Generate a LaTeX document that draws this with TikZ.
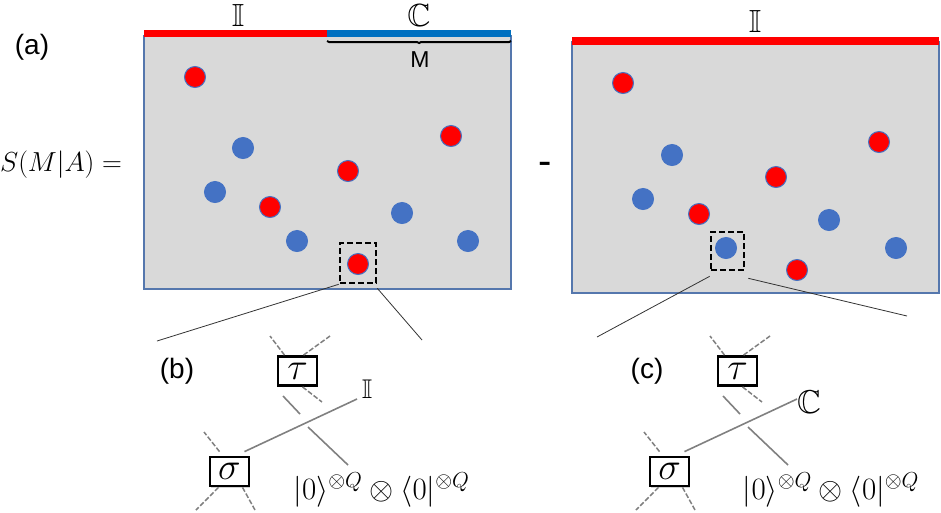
\documentclass[tikz,border=0pt]{standalone}
\usepackage{fix-cm}
\usepackage{amsmath}
\usepackage{amssymb}
\usepackage[no-math]{fontspec}
\setmainfont{Liberation Sans}
\usetikzlibrary{shadows,decorations.pathreplacing}
\definecolor{panelgray}{HTML}{D9D9D9}
\definecolor{panelline}{HTML}{5577AD}
\definecolor{dotblue}{HTML}{4472C4}
\definecolor{barblue}{HTML}{0070C0}
\definecolor{legray}{HTML}{808080}
\tikzset{
  panel/.style={fill=panelgray,draw=panelline,line width=1.2pt},
  reddot/.style={circle,fill=red,draw=dotblue,line width=1pt,minimum size=21pt,inner sep=0pt},
  bluedot/.style={circle,fill=dotblue,draw=dotblue,line width=1pt,minimum size=21pt,inner sep=0pt},
  zoombox/.style={draw=black,line width=2.6pt,dash pattern=on 6pt off 3pt,inner sep=0pt},
  tensorbox/.style={draw=black,fill=white,line width=2.8pt,minimum width=39pt,minimum height=29pt,inner sep=0pt,
    drop shadow={shadow xshift=1pt,shadow yshift=-1.5pt,fill=black!35}},
  sidetext/.style={font=\fontsize{28}{32}\selectfont,inner sep=0pt},
  leg/.style={draw=legray,line width=1.5pt,dash pattern=on 5pt off 2pt},
  wire/.style={draw=legray,line width=1.6pt},
  zoomline/.style={draw=black!80,line width=0.8pt}
}
\begin{document}
\begin{tikzpicture}[x=1pt,y=-1pt]
    \useasboundingbox (0,0) rectangle (941,512);
    % panels
    \draw[panel] (144,36) rectangle (511,289);
    \draw[panel] (572,42) rectangle (939,293);
    \fill[red] (144,30) rectangle (327,37);
    \fill[barblue] (327,30) rectangle (511,37);
    \fill[red] (572,37) rectangle (939,45);
    \coordinate (bl) at (327,41);
    \coordinate (br) at (511,41);
    \draw[line width=2pt,decorate,decoration={brace,mirror,amplitude=2pt}] (bl) -- (br);
    % dots
    \foreach \x/\y [count=\i] in {195/77,348/171,451/136,270/207,358/264,623/83,776/177,879/142,699/214,797/270}
      \node[reddot] (r\i) at (\x,\y) {};
    \foreach \x/\y [count=\i] in {243/148,215/192,297/241,402/213,468/241,672/155,643/199,829/220,896/248,726/248}
      \node[bluedot] (u\i) at (\x,\y) {};
    % labels on top
    \node[inner sep=0pt] (iL) at (238,15) {\fontsize{32}{32}\selectfont$\mathbb{I}$};
    \node[inner sep=0pt] (cL) at (419,15) {\fontsize{32}{32}\selectfont$\mathbb{C}$};
    \node[inner sep=0pt] (iR) at (755,21) {\fontsize{32}{32}\selectfont$\mathbb{I}$};
    \node[font=\fontsize{23}{25}\selectfont,inner sep=0pt] (m) at (420,60) {M};
    \node[sidetext] (a) at (32,47) {(a)};
    \node[inner sep=0pt] (s) at (61,165) {\fontsize{27.5}{30}\selectfont$S(M|A)=$};
    \node[font=\fontsize{40}{40}\selectfont] (minus) at (545,168) {-};
    % zoom squares
    \node[zoombox,minimum width=36pt,minimum height=40pt] (zoomb) at (358,263) {};
    \node[zoombox,minimum width=33pt,minimum height=38pt] (zoomc) at (727.5,251) {};
    \coordinate (zb1) at (157,341);
    \coordinate (zb2) at (422,340);
    \coordinate (zc1) at (597,337);
    \coordinate (zc2) at (907,316);
    \draw[zoomline] (zoomb.south west) -- (zb1);
    \draw[zoomline] ([yshift=-4pt]zoomb.south east) -- (zb2);
    \draw[zoomline] ([yshift=-5pt]zoomc.south west) -- (zc1);
    \draw[zoomline] ([xshift=3pt,yshift=-7pt]zoomc.south east) -- (zc2);
    % tensor pairs
    \foreach \side/\dx/\lab/\labx/\laby/\labsize/\formx/\tagx in {b/0/\mathbb{I}/367/389/27/381.5/177,c/440/\mathbb{C}/809/402/33/831/647}{
      \node[tensorbox] (tau\side) at (297.5+\dx,371) {\fontsize{38}{38}\selectfont$\tau$};
      \node[tensorbox] (sig\side) at (229.5+\dx,471.5) {\fontsize{38}{38}\selectfont$\sigma$};
      \node[inner sep=0pt] (lab\side) at (\labx,\laby) {\fontsize{\labsize}{\labsize}\selectfont$\lab$};
      \node[inner sep=0pt] (form\side) at (\formx,490) {\fontsize{31}{34}\selectfont$|0\rangle^{\otimes Q}\otimes\langle 0|^{\otimes Q}$};
      \node[sidetext] (tag\side) at (\tagx,371) {(\side)};
      \coordinate (ta\side) at (270+\dx,336);
      \coordinate (tb\side) at (330+\dx,336);
      \coordinate (tc\side) at (322+\dx,402);
      \coordinate (w1\side) at (283+\dx,396);
      \coordinate (w2\side) at (300+\dx,414);
      \coordinate (w3\side) at (308+\dx,427);
      \coordinate (w4\side) at (348+\dx,465);
      \coordinate (w5\side) at (357+\dx,399);
      \coordinate (sa\side) at (204+\dx,432);
      \coordinate (sb\side) at (196+\dx,510);
      \coordinate (sc\side) at (255+\dx,510);
      \draw[leg] ([xshift=-13pt]tau\side.north) -- (ta\side);
      \draw[leg] ([xshift=6pt]tau\side.north) -- (tb\side);
      \draw[leg] ([xshift=5pt]tau\side.south) -- (tc\side);
      \draw[wire] (w1\side) -- (w2\side);
      \draw[wire] (w3\side) -- (w4\side);
      \draw[wire] ([xshift=15pt,yshift=4pt]sig\side.north) -- (w5\side);
      \draw[leg] ([xshift=-10pt,yshift=4pt]sig\side.north) -- (sa\side);
      \draw[leg] ([xshift=-11pt]sig\side.south) -- (sb\side);
      \draw[leg] ([xshift=13pt]sig\side.south) -- (sc\side);
    }
  \end{tikzpicture}
\end{document}
